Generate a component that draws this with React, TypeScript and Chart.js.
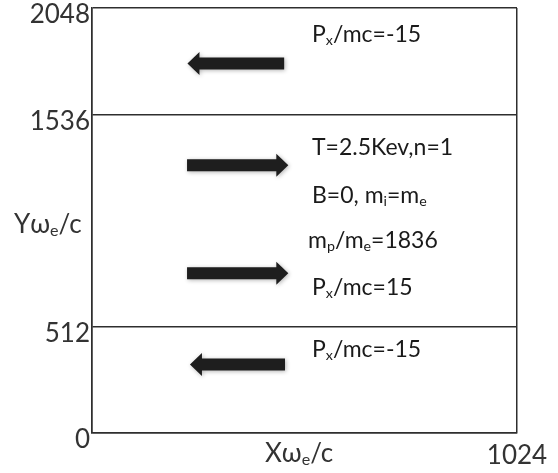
import React, { useEffect, useRef } from 'react';
import { Chart, registerables } from 'chart.js';

Chart.register(...registerables);

// ---- data ----
const xTicks = [0, 1024];
const yTicks = [0, 512, 1536, 2048];
const arrowY = [1780, 1290, 770, 330];
const arrowPx = [-15, 15, 15, -15];
const arrowLeftX = [230, 229, 229, 236];
const arrowRightX = [463, 473, 473, 465];
const infoLabels = ['P_x/mc=-15', 'T=2.5Kev,n=1', 'B=0, m_i=m_e', 'm_p/m_e=1836', 'P_x/mc=15', 'P_x/mc=-15'];
const xTitle = 'Xω_e/c';
const yTitle = 'Yω_e/c';

// ---- layout (pixels) ----
const infoPos = [
  [312, 42],
  [312, 155],
  [312, 203],
  [308, 248],
  [312, 295],
  [312, 357],
];
const FAMILY = 'Lato, "Open Sans", sans-serif';

function parseRich(s: string) {
  const segs: { t: string; sub: boolean }[] = [];
  let buf = '';
  for (let i = 0; i < s.length; i++) {
    if (s[i] === '_' && i + 1 < s.length) {
      if (buf) segs.push({ t: buf, sub: false });
      buf = '';
      segs.push({ t: s[i + 1], sub: true });
      i++;
    } else buf += s[i];
  }
  if (buf) segs.push({ t: buf, sub: false });
  return segs;
}

function drawRich(ctx: CanvasRenderingContext2D, s: string, x: number, y: number, size: number, color: string) {
  ctx.save();
  ctx.fillStyle = color;
  ctx.textBaseline = 'alphabetic';
  ctx.textAlign = 'left';
  let cx = x;
  for (const seg of parseRich(s)) {
    const fs = seg.sub ? size * 0.62 : size;
    ctx.font = `${fs}px ${FAMILY}`;
    ctx.fillText(seg.t, cx, y + (seg.sub ? size * 0.12 : 0));
    cx += ctx.measureText(seg.t).width;
  }
  ctx.restore();
}

const diagramPlugin = {
  id: 'diagram',
  afterDraw(chart: any) {
    const ctx: CanvasRenderingContext2D = chart.ctx;
    const xs = chart.scales.x;
    const ys = chart.scales.y;
    const bodyHalf = 6;
    const headHalf = 11.5;
    const headLen = 12;
    for (let i = 0; i < arrowY.length; i++) {
      const y = ys.getPixelForValue(arrowY[i]);
      const xl = xs.getPixelForValue(arrowLeftX[i]);
      const xr = xs.getPixelForValue(arrowRightX[i]);
      const dir = arrowPx[i] > 0 ? 1 : -1;
      const tail = dir > 0 ? xl : xr;
      const tip = dir > 0 ? xr : xl;
      const base = tip - dir * headLen;
      ctx.save();
      ctx.shadowColor = 'rgba(0,0,0,0.3)';
      ctx.shadowBlur = 4;
      ctx.shadowOffsetX = 1;
      ctx.shadowOffsetY = 1;
      ctx.fillStyle = '#1e1e1e';
      ctx.beginPath();
      ctx.moveTo(tail, y - bodyHalf);
      ctx.lineTo(base, y - bodyHalf);
      ctx.lineTo(base, y - headHalf);
      ctx.lineTo(tip, y);
      ctx.lineTo(base, y + headHalf);
      ctx.lineTo(base, y + bodyHalf);
      ctx.lineTo(tail, y + bodyHalf);
      ctx.closePath();
      ctx.fill();
      ctx.restore();
    }
    infoLabels.forEach((t, i) => drawRich(ctx, t, infoPos[i][0], infoPos[i][1], 23, '#1a1a1a'));
    drawRich(ctx, yTitle, 14, 233, 26, '#333');
    drawRich(ctx, xTitle, 265, 462, 26, '#333');
  },
};

export default function App() {
  const ref = useRef<HTMLCanvasElement | null>(null);
  useEffect(() => {
    if (!ref.current) return;
    const chart = new Chart(ref.current, {
      type: 'scatter',
      data: { datasets: [] },
      options: {
        animation: false,
        responsive: false,
        devicePixelRatio: 1,
        layout: { padding: { top: 8, right: 41, left: 0, bottom: 0 } },
        plugins: { legend: { display: false }, tooltip: { enabled: false } },
        scales: {
          x: {
            type: 'linear',
            position: 'bottom',
            min: 0,
            max: 1024,
            afterBuildTicks: (s: any) => {
              s.ticks = xTicks.map((v) => ({ value: v }));
            },
            afterFit: (s: any) => {
              s.height = 40;
              s.paddingLeft = 0;
              s.paddingRight = 0;
            },
            grid: { color: '#2e2e2e', lineWidth: 1.5, drawTicks: false },
            border: { color: '#2e2e2e', width: 1.5 },
            ticks: {
              autoSkip: false,
              maxRotation: 0,
              padding: 7,
              color: '#333',
              font: { family: FAMILY, size: 26 },
              callback: (v: any) => (v === 0 ? '' : String(v)),
            },
          },
          y: {
            type: 'linear',
            min: 0,
            max: 2048,
            afterBuildTicks: (s: any) => {
              s.ticks = yTicks.map((v) => ({ value: v }));
            },
            afterFit: (s: any) => {
              s.width = 92;
              s.paddingTop = 0;
              s.paddingBottom = 0;
            },
            grid: { color: '#2e2e2e', lineWidth: 1.5, drawTicks: false },
            border: { color: '#2e2e2e', width: 1.5 },
            ticks: {
              autoSkip: false,
              padding: 2,
              labelOffset: 7,
              color: '#333',
              font: { family: FAMILY, size: 26 },
              callback: (v: any) => String(v),
            },
          },
        },
      } as any,
      plugins: [diagramPlugin],
    });
    return () => chart.destroy();
  }, []);
  return (
    <div style={{ position: 'absolute', left: 0, top: 0, width: 558, height: 473, background: '#fff' }}>
      <canvas ref={ref} width={558} height={473} />
    </div>
  );
}
